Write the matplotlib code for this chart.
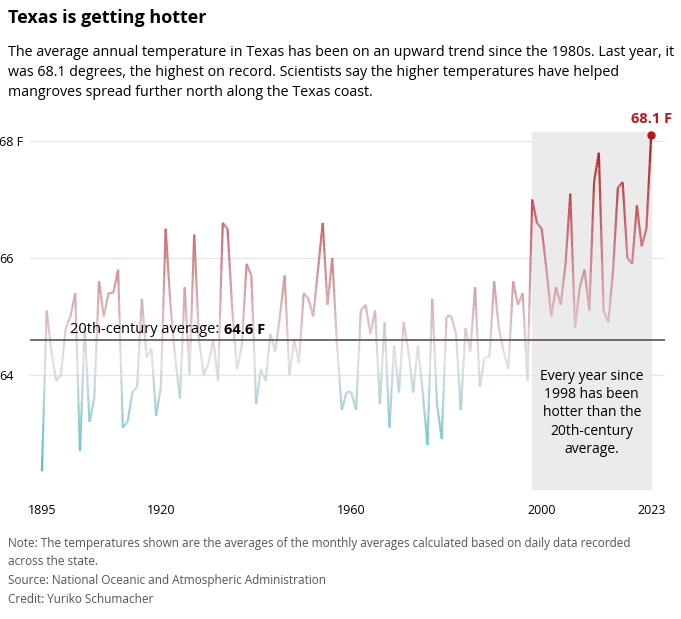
import matplotlib
matplotlib.use("Agg")
import matplotlib.pyplot as plt
import numpy as np
from matplotlib.collections import LineCollection
from matplotlib.colors import LinearSegmentedColormap

plt.rcParams['font.family'] = ['Open Sans', 'DejaVu Sans']

years = list(range(1895, 2024))
temps = [62.35, 65.1, 64.4, 63.9, 64.0, 64.8, 65.0, 65.4, 62.7, 64.8,
         63.2, 63.6, 65.6, 65.0, 65.4, 65.4, 65.8, 63.1, 63.2, 63.7,
         63.8, 65.3, 64.3, 64.45, 63.3, 63.8, 66.5, 65.2, 64.3, 63.6,
         65.5, 64.0, 66.4, 64.6, 64.0, 64.2, 64.6, 63.9, 66.6, 66.5,
         65.1, 64.1, 64.5, 65.9, 65.7, 63.5, 64.1, 63.9, 64.7, 64.4,
         65.0, 65.7, 64.0, 64.6, 64.2, 65.4, 65.3, 65.0, 65.8, 66.6,
         65.2, 66.0, 64.5, 63.4, 63.7, 63.7, 63.4, 65.1, 65.2, 64.7,
         65.1, 63.5, 64.9, 63.1, 64.5, 63.7, 64.9, 64.4, 63.7, 64.5,
         63.7, 62.8, 65.3, 63.5, 62.9, 65.0, 65.0, 64.7, 63.4, 64.8,
         64.4, 65.5, 63.8, 64.3, 64.3, 65.6, 64.8, 64.4, 64.1, 65.6,
         65.2, 65.4, 63.9, 67.0, 66.6, 66.5, 65.8, 65.0, 65.5, 65.2,
         65.9, 67.1, 64.8, 65.5, 65.8, 65.1, 67.3, 67.8, 65.1, 64.9,
         65.8, 67.2, 67.3, 66.0, 65.9, 66.9, 66.2, 66.5, 68.1]
assert len(temps) == len(years)
century_avg = 64.6
xtick_years = [1895, 1920, 1960, 2000, 2023]

fig = plt.figure(figsize=(6.81, 6.19), dpi=100)
ax = fig.add_axes([30/681, 1 - 490/619, 635/681, 360/619])

x = np.array(years, dtype=float)
y = np.array(temps)
# split segments finely so colour follows height
t = np.linspace(0, len(x) - 1, len(x) * 10 - 9)
xs = np.interp(t, np.arange(len(x)), x)
ys = np.interp(t, np.arange(len(x)), y)
pts = np.column_stack([xs, ys]).reshape(-1, 1, 2)
segs = np.concatenate([pts[:-1], pts[1:]], axis=1)
cmap = LinearSegmentedColormap.from_list('t', [(0, '#4fbfca'), (0.34, '#e4e0e0'), (1, '#b8141f')])
lc = LineCollection(segs, cmap=cmap, norm=plt.Normalize(62.3, 68.1), linewidth=1.6)
lc.set_array((ys[:-1] + ys[1:]) / 2)
ax.add_collection(lc)

ax.axvspan(1998, 2023, ymin=0, ymax=(68.1 - 62.03 + 0.05) / (68.19 - 62.03), color='#ebebeb', zorder=0)
ax.axhline(century_avg, color='#555555', lw=1.2)
t1 = ax.text(1901, century_avg + 0.05, '20th-century average: ', fontsize=10.5, va='bottom')
ax.annotate('64.6 F', xy=(1, 0), xycoords=t1, va='bottom', ha='left',
            fontsize=10.5, fontweight='bold')
ax.plot([2023], [68.1], 'o', color='#b8141f', ms=5)
ax.text(2023, 68.25, '68.1 F', color='#b8141f', fontsize=10.5, fontweight='bold', ha='center', va='bottom')
ax.text(2010.5, 63.35, 'Every year since\n1998 has been\nhotter than the\n20th-century\naverage.',
        ha='center', va='center', fontsize=10, linespacing=1.3)

ax.set_xlim(1892.5, 2025.9)
ax.set_ylim(62.03, 68.19)
ax.set_yticks([64, 66, 68])
ax.set_yticklabels(['64', '66', '68 F'])
ax.set_xticks(xtick_years)
ax.grid(axis='y', color='#e6e6e6', lw=1)
ax.set_axisbelow(True)
for s in ax.spines.values():
    s.set_visible(False)
ax.tick_params(axis='y', length=0, pad=22, labelsize=9)
ax.tick_params(axis='x', length=0, labelsize=9, pad=10)
for lab in ax.get_yticklabels():
    lab.set_horizontalalignment('left')

fig.text(8/681, 1 - 18/619, 'Texas is getting hotter', fontsize=13, fontweight='bold', va='center')
fig.text(8/681, 1 - 45/619, 'The average annual temperature in Texas has been on an upward trend since the 1980s. Last year, it\n'
         'was 68.1 degrees, the highest on record. Scientists say the higher temperatures have helped\n'
         'mangroves spread further north along the Texas coast.', fontsize=10.3, va='top', linespacing=1.45)
fig.text(8/681, 1 - 537/619, 'Note: The temperatures shown are the averages of the monthly averages calculated based on daily data recorded\n'
         'across the state.', fontsize=8.5, va='top', color='#555555', linespacing=1.5)
fig.text(8/681, 1 - 574/619, 'Source: National Oceanic and Atmospheric Administration', fontsize=8.5, va='top', color='#555555')
fig.text(8/681, 1 - 593/619, 'Credit: Yuriko Schumacher', fontsize=8.5, va='top', color='#555555')

fig.savefig('out.png', dpi=100)
